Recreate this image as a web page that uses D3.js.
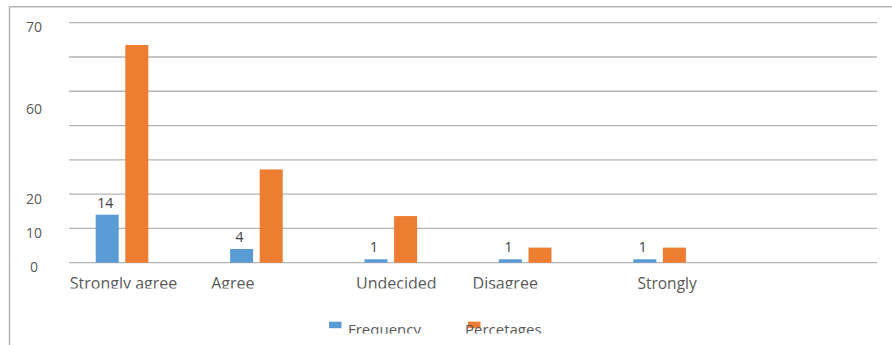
<!DOCTYPE html>
<html>
<head>
<meta charset="utf-8">
<script src="https://cdn.jsdelivr.net/npm/d3@7"></script>
<style>
  body { margin: 0; background: #fff; }
  text { font-family: "Open Sans", sans-serif; }
</style>
</head>
<body>
<svg id="chart" width="892" height="345"></svg>
<script>
/*данные*/
var categories = ["Strongly agree", "Agree", "Undecided", "Disagree", "Strongly"];
var seriesNames = ["Frequency", "Percetages"];
var frequency = [14, 4, 1, 1, 1];
var percentages = [63.5, 27.2, 13.6, 4.4, 4.4];
var gridValues = [0, 10, 20, 30, 40, 50, 60, 70];
var tickValues = [70, 46, 20, 10, 0];
var tickText = ["70", "60", "20", "10", "0"];

// сдвиг подписей категорий (в оригинале они стоят неровно)
var labelNudge = [1.5, -23.5, 5.5, -20, 7.5];

var colors = ["#5b9bd5", "#ed7d31"];

var svg = d3.select("#chart");

var y = d3.scaleLinear().domain([0, 70]).range([262.7, 22.7]);
var x = d3.scaleBand().domain(categories).range([54.8, 726.8]).padding(0);
var x1 = d3.scaleBand().domain(seriesNames).range([-26.3, 26.3]).paddingInner(0.223);

// рамка
svg.append("path")
    .attr("d", "M9.5,345 V6.7 H892")
    .attr("fill", "none")
    .attr("stroke", "#b5b5b5")
    .attr("stroke-width", 1.5);

// сетка
svg.append("g")
    .selectAll("line")
      .data(gridValues)
    .enter().append("line")
      .attr("x1", 69)
      .attr("x2", 877)
      .attr("y1", function(d) { return y(d) })
      .attr("y2", function(d) { return y(d) })
      .attr("stroke", "#b3b3b3")
      .attr("stroke-width", 1.3);

// подписи оси Y
svg.append("g")
    .selectAll("text")
      .data(tickValues)
    .enter().append("text")
      .attr("x", 34)
      .attr("y", function(d) { return y(d) + 4 })
      .attr("dominant-baseline", "central")
      .attr("text-anchor", "middle")
      .attr("font-size", 14)
      .attr("fill", "#595959")
      .text(function(d, i) { return tickText[i] });

var table = categories.map(function(c, i) {
    return { cat: c, values: [frequency[i], percentages[i]] };
});

var groups = svg.append("g")
    .selectAll("g")
      .data(table)
    .enter().append("g")
      .attr("transform", function(d) { return "translate(" + (x(d.cat) + x.bandwidth() / 2) + ",0)" });

groups.selectAll("rect")
    .data(function(d) { return d.values.map(function(v, k) { return { s: seriesNames[k], v: v, k: k } }) })
  .enter().append("rect")
    .attr("x", function(d) { return x1(d.s) })
    .attr("width", x1.bandwidth())
    .attr("y", function(d) { return y(d.v) })
    .attr("height", function(d) { return y(0) - y(d.v) })
    .attr("fill", function(d) { return colors[d.k] });

// подписи значений (только частота)
groups.append("text")
    .attr("x", function(d) { return x1("Frequency") + x1.bandwidth() / 2 - 2 })
    .attr("y", function(d) { return y(d.values[0]) - 7 })
    .attr("text-anchor", "middle")
    .attr("font-size", 14)
    .attr("fill", "#404040")
    .text(function(d) { return d.values[0] });

// обрезка подписей как в оригинале
var defs = svg.append("defs");
defs.append("clipPath").attr("id", "clipX")
    .append("rect").attr("x", 0).attr("y", 0).attr("width", 892).attr("height", 288.5);
defs.append("clipPath").attr("id", "clipL")
    .append("rect").attr("x", 0).attr("y", 0).attr("width", 892).attr("height", 333.5);

// последняя подпись в оригинале не обрезана
svg.append("g")
    .selectAll("text")
      .data(categories)
    .enter().append("text")
      .attr("x", function(d, i) { return x(d) + x.bandwidth() / 2 + labelNudge[i] })
      .attr("y", 288.5)
      .attr("text-anchor", "middle")
      .attr("font-size", function(d, i) { return i === categories.length - 1 ? 15.5 : 16 })
      .attr("fill", "#595959")
      .attr("clip-path", function(d, i) { return i === categories.length - 1 ? null : "url(#clipX)" })
      .text(function(d) { return d });

// легенда
var legend = svg.append("g").attr("clip-path", "url(#clipL)");
var legendX = [329, 468];
seriesNames.forEach(function(s, k) {
    legend.append("rect")
        .attr("x", legendX[k])
        .attr("y", 321.7)
        .attr("width", 12.5)
        .attr("height", 6.5)
        .attr("fill", colors[k]);
    legend.append("text")
        .attr("x", legendX[k] + (k === 0 ? 19 : -3))
        .attr("y", 335)
        .attr("font-size", 15)
        .attr("fill", "#595959")
        .text(s);
});
</script>
</body>
</html>
